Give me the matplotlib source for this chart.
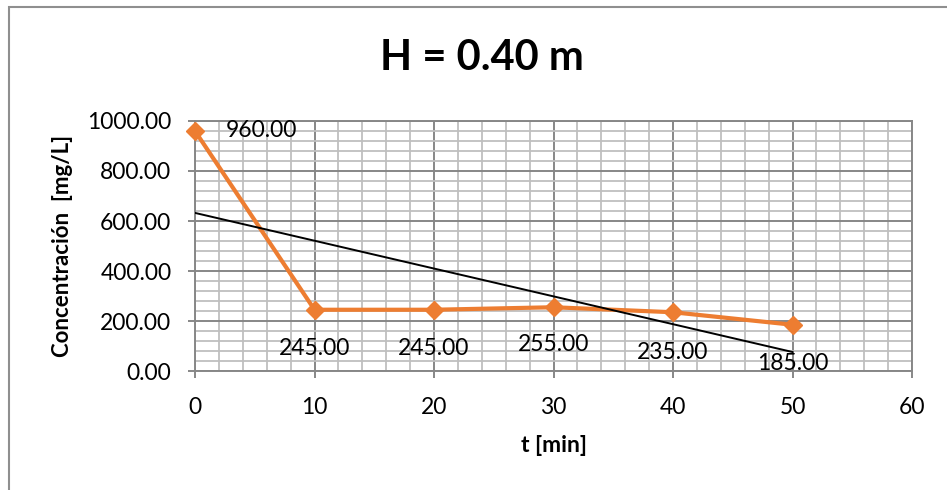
import numpy as np
import matplotlib
matplotlib.use("Agg")
import matplotlib.pyplot as plt
from matplotlib.ticker import MultipleLocator, FormatStrFormatter
from matplotlib.patches import Rectangle

plt.rcParams['font.family'] = ['Lato', 'DejaVu Sans']

# ---- data ----
t_min = [0, 10, 20, 30, 40, 50]
conc = [960.0, 245.0, 245.0, 255.0, 235.0, 185.0]
label_offsets = [(22, 0), (0, -28), (0, -28), (0, -27), (0, -29), (0, -28)]
title = "H = 0.40 m"
xlabel = "t [min]"
ylabel = "Concentración  [mg/L]"

W, H = 947, 490
fig = plt.figure(figsize=(W / 100, H / 100), dpi=100)
ax = fig.add_axes([195 / W, 1 - 371 / H, (912 - 195) / W, (371 - 121) / H])

major_c = '#878787'
minor_c = '#bfbfbf'

ax.set_xlim(0, 60)
ax.set_ylim(0, 1000)
ax.xaxis.set_major_locator(MultipleLocator(10))
ax.xaxis.set_minor_locator(MultipleLocator(2))
ax.yaxis.set_major_locator(MultipleLocator(200))
ax.yaxis.set_minor_locator(MultipleLocator(40))
ax.yaxis.set_major_formatter(FormatStrFormatter('%.2f'))

ax.grid(which='minor', color=minor_c, lw=1.3, zorder=0)
ax.grid(which='major', color=major_c, lw=1.4, zorder=0)
ax.set_axisbelow(True)
for s in ax.spines.values():
    s.set_color(major_c)
    s.set_linewidth(1.4)

ax.tick_params(which='major', direction='out', length=5, width=1.4, color=major_c,
               labelsize=16.5, labelcolor='black')
ax.tick_params(axis='x', which='major', pad=14)
ax.tick_params(axis='y', which='major', pad=12)
ax.tick_params(which='minor', length=0)

# data series
ax.plot(t_min, conc, color='#ED7D31', lw=3, marker='D', markersize=9,
        zorder=3, clip_on=False)

# linear trend line
coef = np.polyfit(t_min, conc, 1)
tx = np.array([t_min[0], t_min[-1]])
ax.plot(tx, np.polyval(coef, tx), color='black', lw=1.4, zorder=4)

# data labels
for x, y, (dx, dy) in zip(t_min, conc, label_offsets):
    ha = 'left' if dx > 0 else 'center'
    ax.annotate(f"{y:.2f}", (x, y), xytext=(dx, dy), textcoords='offset points',
                ha=ha, va='center', fontsize=16.5, zorder=5)

ax.set_xlabel(xlabel, fontsize=16.5, fontweight='bold', labelpad=12)
ax.set_ylabel(ylabel, fontsize=16, fontweight='bold', labelpad=10)

fig.text(482 / W, 1 - 58 / H, title, fontsize=30, fontweight='bold',
         ha='center', va='center')

# chart area border
fig.patches.append(Rectangle((9 / W, -0.1), 1.1, 1 - 7 / H + 0.1,
                             transform=fig.transFigure, fill=False,
                             edgecolor='#8f8f8f', lw=1.5))

fig.savefig('out.png', dpi=100)
